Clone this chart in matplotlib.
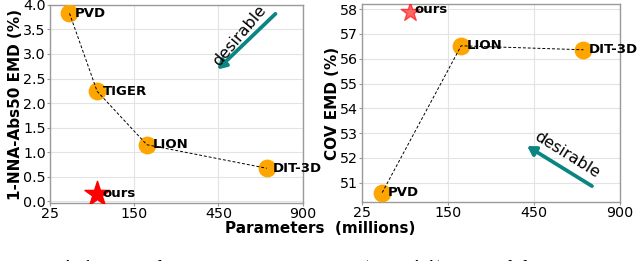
import numpy as np
import matplotlib
matplotlib.use("Agg")
import matplotlib.pyplot as plt

# x axis: tick values are drawn at equal spacing
x_ticks = [25, 150, 450, 900]
tick_pos = [0, 1, 2, 3]

def fwd(x):
    return np.interp(x, x_ticks, tick_pos)

def inv(p):
    return np.interp(p, tick_pos, x_ticks)

# left panel: 1-NNA-Abs50 EMD
nna_models = ["PVD", "TIGER", "LION", "DIT-3D"]
nna_params = [54, 95, 195, 708]
nna_values = [3.83, 2.24, 1.15, 0.67]
nna_ours_params = 95
nna_ours_value = 0.15

# right panel: COV EMD
cov_models = ["PVD", "LION", "DIT-3D"]
cov_params = [54, 195, 708]
cov_values = [50.6, 56.52, 56.36]
cov_ours_params = 95
cov_ours_value = 57.88

teal = "#0b8581"
orange = "#ffa500"

fig = plt.figure(figsize=(6.4, 2.61), dpi=100)
ax1 = fig.add_axes([0.078, 0.222, 0.395, 0.759])
ax2 = fig.add_axes([0.566, 0.226, 0.403, 0.759])

for ax in (ax1, ax2):
    ax.set_xscale("function", functions=(fwd, inv))
    ax.set_xlim(25, 900)
    ax.set_xticks(x_ticks)
    ax.set_xticklabels([str(v) for v in x_ticks])
    ax.grid(True, color="#e3e3e3", linewidth=0.8)
    ax.set_axisbelow(True)
    for s in ax.spines.values():
        s.set_color("#9a9a9a")
        s.set_linewidth(1.0)
    ax.tick_params(labelsize=10.3, length=2, color="#9a9a9a", pad=1)

# left
ax1.plot(nna_params, nna_values, color="black", linestyle="--", linewidth=0.7,
         dashes=(3, 2), zorder=4)
ax1.scatter(nna_params, nna_values, s=140, color=orange, zorder=3)
ax1.scatter([nna_ours_params], [nna_ours_value], s=360, marker="*", color="red", zorder=3)
for m, x, y in zip(nna_models, nna_params, nna_values):
    ax1.annotate(m, (x, y), xytext=(4, 0), textcoords="offset points",
                 va="center", ha="left", fontsize=9.5, fontweight="bold")
ax1.annotate("ours", (nna_ours_params, nna_ours_value), xytext=(4, 0),
             textcoords="offset points", va="center", ha="left",
             fontsize=9.5, fontweight="bold")
ax1.set_ylim(-0.04, 4.0)
ax1.set_yticks(np.arange(0, 4.01, 0.5))
ax1.set_ylabel("1-NNA-Abs50 EMD (%)", fontsize=11, fontweight="bold", labelpad=0)
ax1.annotate("", xy=(0.655, 0.665), xytext=(0.9, 0.965), xycoords="axes fraction",
             arrowprops=dict(arrowstyle="-|>,head_width=0.3,head_length=0.5",
                             color=teal, lw=2.7))
ax1.text(0.748, 0.845, "desirable", transform=ax1.transAxes, rotation=50,
         ha="center", va="center", fontsize=11.5)

# right
ax2.plot(cov_params, cov_values, color="black", linestyle="--", linewidth=0.7,
         dashes=(3, 2), zorder=4)
ax2.scatter(cov_params, cov_values, s=140, color=orange, zorder=3)
ax2.scatter([cov_ours_params], [cov_ours_value], s=200, marker="*", color="red",
            alpha=0.6, zorder=3)
for m, x, y in zip(cov_models, cov_params, cov_values):
    ax2.annotate(m, (x, y), xytext=(4, 0), textcoords="offset points",
                 va="center", ha="left", fontsize=9.5, fontweight="bold")
ax2.annotate("ours", (cov_ours_params, cov_ours_value), xytext=(3, 2),
             textcoords="offset points", va="center", ha="left",
             fontsize=9.5, fontweight="bold")
ax2.set_ylim(50.22, 58.21)
ax2.set_yticks(range(51, 59))
ax2.set_ylabel("COV EMD (%)", fontsize=11, fontweight="bold", labelpad=0)
ax2.annotate("", xy=(0.63, 0.29), xytext=(0.9, 0.073), xycoords="axes fraction",
             arrowprops=dict(arrowstyle="-|>,head_width=0.3,head_length=0.5",
                             color=teal, lw=2.7))
ax2.text(0.795, 0.24, "desirable", transform=ax2.transAxes, rotation=-32,
         ha="center", va="center", fontsize=11.5)

fig.text(0.5, 0.124, "Parameters  (millions)", ha="center", va="center",
         fontsize=11, fontweight="bold")

# clipped caption line at the bottom edge
fig.text(0.0, -0.06, "Figure 4: 1-NNA-Abs50 EMD & COV EMD (Sec. 4.1) vs. model parameters of",
         ha="left", va="bottom", fontsize=12, family="DejaVu Serif")

fig.savefig("out.png", dpi=100)
